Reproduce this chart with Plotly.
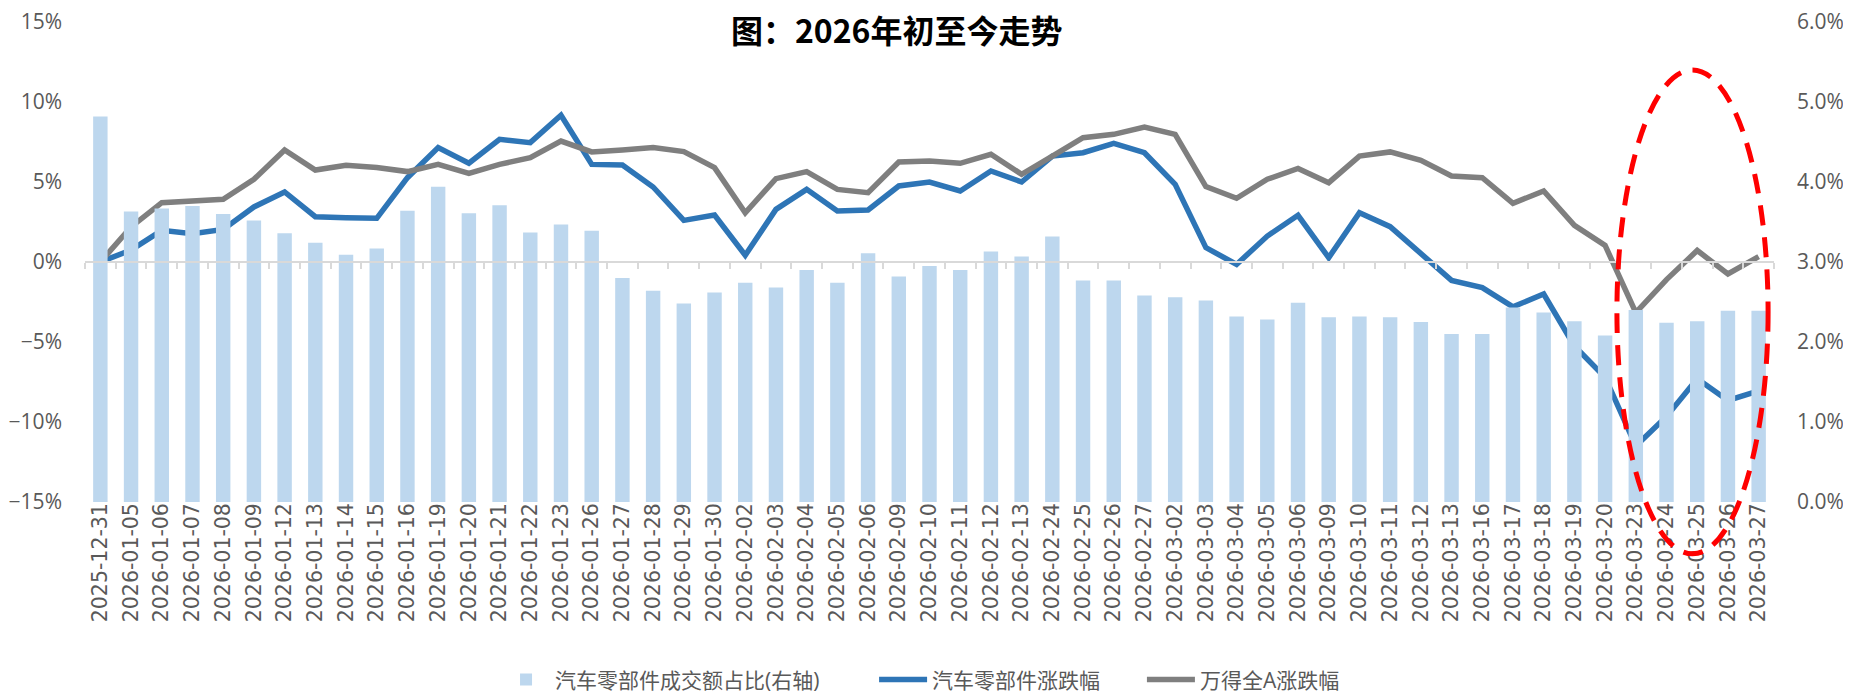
import plotly.graph_objects as go

# x categories (trading days)
dates = ['2025-12-31',
         '2026-01-05', '2026-01-06', '2026-01-07', '2026-01-08', '2026-01-09',
         '2026-01-12', '2026-01-13', '2026-01-14', '2026-01-15', '2026-01-16',
         '2026-01-19', '2026-01-20', '2026-01-21', '2026-01-22', '2026-01-23',
         '2026-01-26', '2026-01-27', '2026-01-28', '2026-01-29', '2026-01-30',
         '2026-02-02', '2026-02-03', '2026-02-04', '2026-02-05', '2026-02-06',
         '2026-02-09', '2026-02-10', '2026-02-11', '2026-02-12', '2026-02-13',
         '2026-02-24', '2026-02-25', '2026-02-26', '2026-02-27',
         '2026-03-02', '2026-03-03', '2026-03-04', '2026-03-05', '2026-03-06',
         '2026-03-09', '2026-03-10', '2026-03-11', '2026-03-12', '2026-03-13',
         '2026-03-16', '2026-03-17', '2026-03-18', '2026-03-19', '2026-03-20',
         '2026-03-23', '2026-03-24', '2026-03-25', '2026-03-26', '2026-03-27']

# 汽车零部件成交额占比 (right axis, %)
share = [4.82, 3.63, 3.67, 3.70, 3.60, 3.52, 3.36, 3.24, 3.09, 3.17, 3.64,
         3.94, 3.61, 3.71, 3.37, 3.47, 3.39, 2.80, 2.64, 2.48, 2.62,
         2.74, 2.68, 2.90, 2.74, 3.11, 2.82, 2.95, 2.90, 3.13, 3.07,
         3.32, 2.77, 2.77, 2.58, 2.56, 2.52, 2.32, 2.28, 2.49,
         2.31, 2.32, 2.31, 2.25, 2.10, 2.10, 2.43, 2.37, 2.26, 2.08,
         2.40, 2.24, 2.26, 2.39, 2.39]

# 汽车零部件涨跌幅 (left axis, %)
auto_parts = [0, 0.75, 1.98, 1.77, 2.04, 3.44, 4.38, 2.83, 2.77, 2.73, 5.27,
              7.15, 6.17, 7.67, 7.46, 9.17, 6.10, 6.06, 4.69, 2.60, 2.94,
              0.42, 3.29, 4.54, 3.19, 3.25, 4.75, 5.00, 4.44, 5.69, 5.00,
              6.62, 6.83, 7.42, 6.83, 4.85, 0.90, -0.15, 1.62, 2.92,
              0.27, 3.08, 2.21, 0.55, -1.15, -1.60, -2.80, -2.00, -5.25, -7.20,
              -11.50, -9.65, -7.30, -8.65, -8.05]

# 万得全A涨跌幅 (left axis, %)
wind_a = [0, 2.19, 3.71, 3.85, 3.92, 5.17, 7.00, 5.75, 6.04, 5.90, 5.65,
          6.10, 5.54, 6.10, 6.52, 7.56, 6.88, 7.00, 7.15, 6.90, 5.90,
          3.08, 5.21, 5.65, 4.54, 4.33, 6.25, 6.31, 6.17, 6.73, 5.48,
          6.62, 7.77, 7.98, 8.44, 7.98, 4.71, 3.98, 5.17, 5.85,
          4.96, 6.62, 6.88, 6.35, 5.38, 5.27, 3.67, 4.44, 2.29, 1.04,
          -3.17, -1.10, 0.72, -0.75, 0.33]

font_family = 'Open Sans, Noto Sans CJK SC, sans-serif'
label_color = '#595959'

fig = go.Figure()
fig.add_trace(go.Bar(x=dates, y=share, name='汽车零部件成交额占比(右轴)', yaxis='y2',
                     marker=dict(color='#BDD7EE', line=dict(width=0)), legend='legend'))
fig.add_trace(go.Scatter(x=dates, y=auto_parts, mode='lines', name='汽车零部件涨跌幅',
                         line=dict(color='#2E75B6', width=5.5), legend='legend2'))
fig.add_trace(go.Scatter(x=dates, y=wind_a, mode='lines', name='万得全A涨跌幅',
                         line=dict(color='#7F7F7F', width=5.5), legend='legend3'))
# helper trace so the 0% category axis line (with boundary ticks) is drawn
fig.add_trace(go.Scatter(x=[None], y=[None], xaxis='x2', yaxis='y', showlegend=False,
                         hoverinfo='skip'))

# red dashed ellipse highlighting the last week
fig.add_shape(type='circle', xref='paper', yref='paper',
              x0=0.907, x1=0.9965, y0=-0.108, y1=0.90,
              line=dict(color='#FF0000', width=5, dash='20px,12px'))

leg = dict(orientation='h', xref='container', xanchor='left', y=0.029, yref='container',
           yanchor='middle', font=dict(size=21, color=label_color), itemwidth=48,
           bgcolor='rgba(0,0,0,0)')

# page body has an 8px margin, so the figure is laid out 8px up/left
fig.update_layout(
    width=1851, height=692,
    margin=dict(l=77, r=85, t=14, b=198),
    plot_bgcolor='white', paper_bgcolor='white',
    font=dict(family=font_family, color=label_color),
    title=dict(text='<b>图：2026年初至今走势</b>', x=0.4801, xref='container', xanchor='center',
               y=0.966, yref='container', yanchor='middle',
               font=dict(family='Noto Sans CJK SC', size=32, color='black')),
    bargap=0.53,
    showlegend=True,
    legend=dict(leg, x=0.2642),
    legend2=dict(leg, x=0.4679),
    legend3=dict(leg, x=0.6126),
    xaxis=dict(type='category', tickangle=-90, showgrid=False, showline=False, ticks='',
               tickfont=dict(family='DejaVu Sans', size=20.5, color=label_color),
               ticklabelstandoff=-4, automargin=False, range=[-0.5, len(dates) - 0.5]),
    xaxis2=dict(overlaying='x', anchor='free', position=0.5, range=[-0.5, len(dates) - 0.5],
                tick0=-0.5, dtick=1, ticks='outside', ticklen=6, tickwidth=2,
                tickcolor='#D9D9D9', showline=True, linecolor='#D9D9D9', linewidth=2,
                showticklabels=False, showgrid=False, zeroline=False, automargin=False),
    yaxis=dict(range=[-15, 15], dtick=5, ticksuffix='%', showgrid=False, zeroline=False,
               showline=False, tickfont=dict(size=21, color=label_color), ticklabelstandoff=22,
               automargin=False, ticklabeloverflow='allow'),
    yaxis2=dict(range=[0, 6], dtick=1, tickformat='.1f', ticksuffix='%', overlaying='y',
                side='right', showgrid=False, zeroline=False, showline=False,
                tickfont=dict(size=21, color=label_color), ticklabelstandoff=22,
                automargin=False, ticklabeloverflow='allow'),
)

fig.write_html('out.html')
